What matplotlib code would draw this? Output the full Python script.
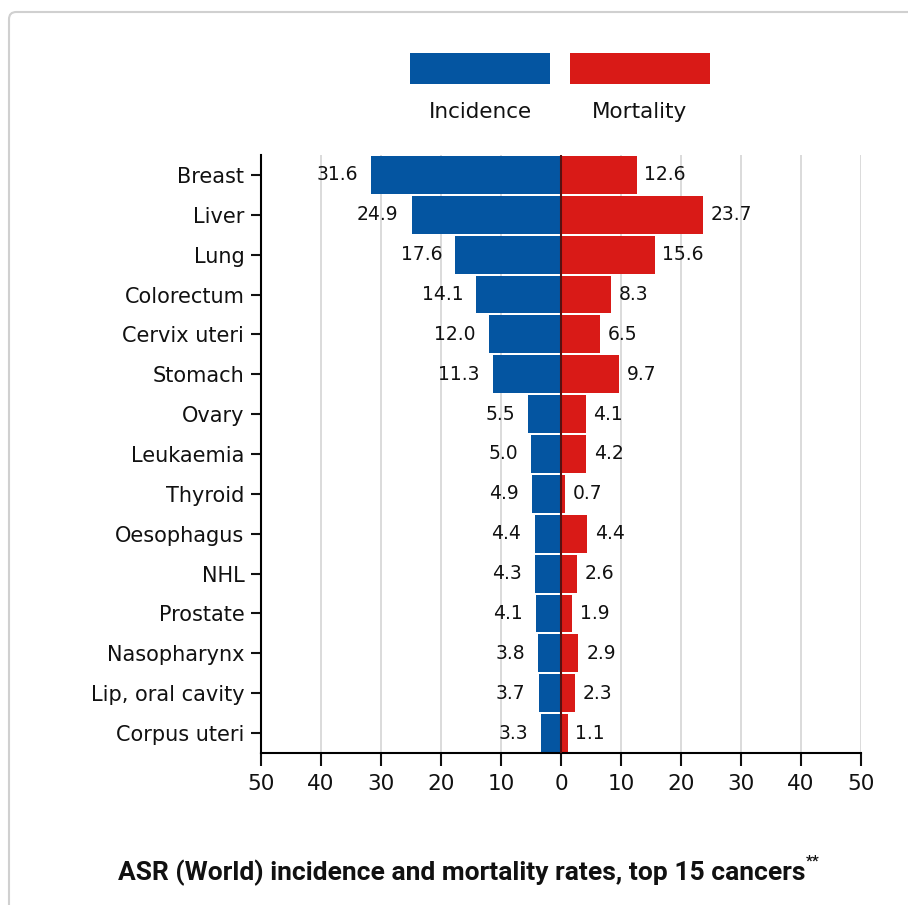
import matplotlib
matplotlib.use("Agg")
import matplotlib.pyplot as plt
from matplotlib.patches import FancyBboxPatch, Rectangle

categories = ["Breast", "Liver", "Lung", "Colorectum", "Cervix uteri", "Stomach", "Ovary",
              "Leukaemia", "Thyroid", "Oesophagus", "NHL", "Prostate", "Nasopharynx",
              "Lip, oral cavity", "Corpus uteri"]
incidence = [31.6, 24.9, 17.6, 14.1, 12.0, 11.3, 5.5, 5.0, 4.9, 4.4, 4.3, 4.1, 3.8, 3.7, 3.3]
mortality = [12.6, 23.7, 15.6, 8.3, 6.5, 9.7, 4.1, 4.2, 0.7, 4.4, 2.6, 1.9, 2.9, 2.3, 1.1]
xticks = [-50, -40, -30, -20, -10, 0, 10, 20, 30, 40, 50]
xticklabels = ["50", "40", "30", "20", "10", "0", "10", "20", "30", "40", "50"]
series_names = ["Incidence", "Mortality"]
title = "ASR (World) incidence and mortality rates, top 15 cancers"

BLUE = "#0455A1"
RED = "#D91A17"
FONT = ["DejaVu Sans"]
plt.rcParams["font.family"] = FONT

W, H = 908, 905
fig = plt.figure(figsize=(W / 100, H / 100), dpi=100)

# rounded border
border = FancyBboxPatch((9 / W, -0.05), 1.2, 1 - 12 / H + 0.05,
                        boxstyle="round,pad=0,rounding_size=0.008",
                        transform=fig.transFigure, facecolor="none",
                        edgecolor="#d0d0d0", linewidth=1.5, zorder=-1)
fig.patches.append(border)

ax = fig.add_axes([261 / W, (H - 753) / H, 600 / W, 598 / H])
ax.set_zorder(2)
ax.set_facecolor("none")
n = len(categories)
ys = list(range(n))
ax.barh(ys, [-v for v in incidence], height=0.95, color=BLUE, zorder=2)
ax.barh(ys, mortality, height=0.95, color=RED, zorder=2)

for y, v in zip(ys, incidence):
    ax.text(-v - 2.2, y, f"{v:.1f}", ha="right", va="center", fontsize=13.5, color="#111111")
for y, v in zip(ys, mortality):
    ax.text(v + 1.3, y, f"{v:.1f}", ha="left", va="center", fontsize=13.5, color="#111111")

ax.set_xlim(-50, 50)
ax.set_ylim(n - 0.5, -0.5)
ax.set_xticks(xticks)
ax.set_xticklabels(xticklabels, fontsize=15.5)
ax.set_yticks(ys)
ax.set_yticklabels(categories, fontsize=15)
ax.xaxis.grid(True, color="#d4d4d4", linewidth=1.2, zorder=0)
ax.set_axisbelow(True)
ax.axvline(0, color="#5a1010", linewidth=1.5, zorder=3)
for s in ["top", "right"]:
    ax.spines[s].set_visible(False)
ax.spines["left"].set_linewidth(1.5)
ax.spines["bottom"].set_linewidth(1.5)
ax.tick_params(axis="x", length=9, width=1.5, pad=6, colors="#111111")
ax.tick_params(axis="y", length=7, width=1.5, pad=5, colors="#111111")

# legend
for i, (name, col) in enumerate(zip(series_names, [BLUE, RED])):
    x0 = (410 + 160 * i) / W
    fig.patches.append(Rectangle((x0, (H - 84) / H), 140 / W, 31 / H,
                                 transform=fig.transFigure, facecolor=col, edgecolor="none"))
    fig.text(x0 + 70 / W, (H - 112) / H, name, ha="center", va="center",
             fontsize=15.5, color="#111111")

fig.text(805 / W, (H - 873) / H, title, ha="right", va="center",
         fontsize=19, fontweight="bold", color="#111111", family=["Roboto", "DejaVu Sans"])
fig.text(806 / W, (H - 862) / H, "**", ha="left", va="center",
         fontsize=11, fontweight="bold", color="#111111", family=["Roboto", "DejaVu Sans"])

fig.savefig("out.png", dpi=100)
